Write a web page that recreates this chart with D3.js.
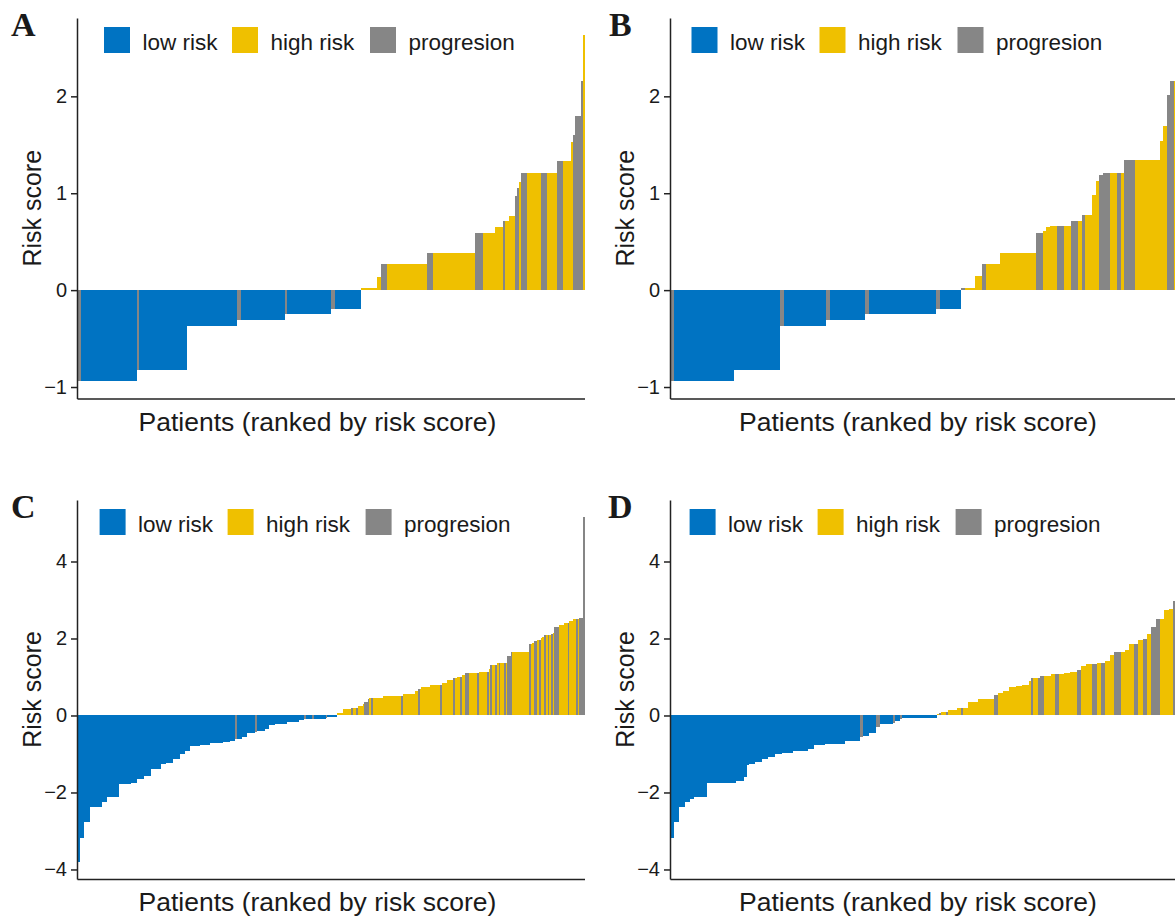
<!DOCTYPE html>
<html>
<head>
<meta charset="utf-8">
<script src="https://cdn.jsdelivr.net/npm/d3@7"></script>
<style>
  body { margin: 0; background: #fff; }
  svg { display: block; }
  text { font-family: "Liberation Sans", Arial, Helvetica, sans-serif; fill: #1a1a1a; }
</style>
</head>
<body>
<svg id="fig" width="1175" height="919"></svg>
<script>
// colours (jco palette)
const colLow = "#0073C2";
const colHigh = "#EFC000";
const colProg = "#868686";

const legendLabels = ["low risk", "high risk", "progresion"];
const ticksTop = [-1, 0, 1, 2];
const ticksBottom = [-4, -2, 0, 2, 4];

// Panel A : runs of patients with the same score (score, how many, progression 1/0)
const scoresA = [-0.94,-0.94,-0.82,-0.82,-0.37,-0.31,-0.31,-0.25,-0.25,-0.19,-0.19,
  0.025,0.14,0.265,0.265,0.385,0.385,0.59,0.59,0.65,0.71,0.71,0.77,0.97,1.05,1.12,
  1.21,1.21,1.21,1.21,1.33,1.33,1.53,1.6,1.8,2.16,2.63];
const countsA = [2,28,1,24,25,2,22,1,22,2,13,
  8,2,3,20,3,21,4,6,4,1,2,3,1,1,1,
  3,7,3,5,3,4,1,1,3,1,1];
const progA = [1,0,1,0,0,1,0,1,0,1,0,
  0,0,1,0,1,0,1,0,0,1,0,0,1,1,0,
  1,0,1,0,1,0,0,1,1,1,0];

// Panel B
const scoresB = [-0.94,-0.94,-0.82,-0.37,-0.37,-0.31,-0.31,-0.25,-0.25,-0.19,-0.19,
  0.025,0.025,0.147,0.267,0.267,0.386,0.59,0.615,0.65,0.66,0.66,0.66,0.71,0.71,
  0.78,0.78,0.98,1.13,1.19,1.21,1.21,1.21,1.21,1.34,1.34,1.54,1.69,2.01,2.16,2.16];
const countsB = [1,17,13,1,12,1,10,1,19,1,6,
  1,3,2,1,4,10,2,1,1,2,2,2,2,1,
  1,2,1,1,1,2,2,1,1,3,7,1,1,1,1,1];
const progB = [1,0,0,1,0,1,0,1,0,1,0,
  1,0,0,1,0,0,1,0,0,0,1,0,1,0,
  1,0,0,0,1,1,0,1,0,1,0,0,0,1,1,0];

// Panel C
const scoresC = [-3.8,-3.18,-2.77,-2.39,-2.26,-2.13,-1.79,-1.76,-1.66,-1.57,-1.38,-1.27,-1.23,
  -1.12,-1.01,-0.93,-0.8,-0.76,-0.71,-0.69,-0.65,-0.62,-0.62,-0.56,-0.45,-0.42,-0.41,-0.35,
  -0.24,-0.22,-0.18,-0.16,-0.13,-0.1,-0.1,-0.08,-0.08,-0.06,-0.04,
  0.07,0.17,0.2,0.2,0.2,0.24,0.3,0.34,0.43,0.45,0.45,0.46,0.5,0.51,0.51,0.55,0.64,0.69,0.69,
  0.74,0.79,0.79,0.84,0.91,0.98,0.98,1.0,1.0,1.05,1.11,1.11,1.11,1.13,1.13,1.2,1.3,1.3,1.3,
  1.36,1.36,1.36,1.36,1.36,1.55,1.65,1.65,1.85,1.85,1.89,1.94,1.97,1.97,2.0,2.05,2.1,2.1,
  2.1,2.1,2.12,2.15,2.3,2.36,2.4,2.4,2.45,2.5,2.5,2.5,2.52,5.15];
const countsC = [2,2,4,7,3,7,7,4,4,4,6,3,4,
  4,3,3,6,6,8,4,3,1,3,3,5,1,5,2,
  4,7,4,3,3,1,4,1,7,1,6,
  3,5,1,2,1,3,1,2,1,1,1,6,4,7,1,7,2,1,1,
  5,6,1,3,4,1,1,2,1,2,2,5,1,5,1,1,1,2,1,
  1,1,2,1,1,2,1,10,1,1,1,2,1,1,1,1,1,1,
  1,1,1,1,3,3,2,1,2,2,1,1,2,1];
const progC = [0,0,0,0,0,0,0,0,0,0,0,0,0,
  0,0,0,0,0,0,0,0,1,0,0,0,1,0,0,
  0,0,0,0,0,1,0,1,0,1,0,
  0,0,1,0,1,0,0,1,1,0,1,0,0,0,1,0,0,1,0,
  0,0,1,0,0,1,0,0,1,0,1,0,1,0,1,0,1,0,1,
  0,1,0,1,0,1,1,0,1,0,0,1,0,1,0,0,1,0,
  1,0,1,0,1,0,0,1,0,0,1,0,1,1];

// Panel D
const scoresD = [-3.18,-2.77,-2.39,-2.24,-2.17,-2.11,-1.76,-1.7,-1.61,-1.29,-1.25,-1.22,-1.14,
  -1.07,-1.01,-0.97,-0.93,-0.88,-0.77,-0.73,-0.65,-0.55,-0.52,-0.45,-0.3,-0.22,-0.2,-0.15,
  -0.1,-0.07,
  0.03,0.06,0.08,0.08,0.13,0.19,0.19,0.19,0.36,0.43,0.53,0.58,0.64,0.73,0.76,0.79,0.9,
  0.97,0.97,0.97,1.02,1.02,1.07,1.09,1.09,1.11,1.14,1.18,1.28,1.35,1.35,1.36,1.36,1.42,
  1.56,1.65,1.65,1.71,1.86,1.86,1.97,1.99,2.12,2.29,2.51,2.51,2.74,2.76,2.98];
const countsD = [2,2,3,2,2,6,13,4,1,1,3,3,3,
  3,3,5,7,3,5,9,7,1,3,3,2,6,1,2,
  1,16,
  1,1,2,1,4,2,1,2,5,7,2,2,3,3,3,3,1,
  1,2,1,2,3,2,2,2,3,3,2,2,3,2,2,2,2,
  2,3,2,2,2,2,2,2,2,2,2,2,2,2,2];
const progD = [0,0,0,0,0,0,0,0,0,0,0,0,0,
  0,0,0,0,0,0,0,0,1,0,0,1,0,1,0,
  1,0,
  0,1,0,1,0,0,1,0,0,0,1,0,0,0,0,0,0,
  1,0,1,1,0,0,1,0,0,0,1,0,0,1,0,1,0,
  0,1,0,0,0,1,0,1,0,1,1,0,0,0,1];

//one entry per patient, in the order of the runs
function expand(scores, counts, prog){
  const out = [];
  scores.forEach((s, i) => {
    for(let k = 0; k < counts[i]; k++){
      out.push({score: s, prog: prog[i]});
    }
  });
  out.forEach((d, i) => d.i = i);
  return out;
}

// ggplot style 5% expansion of the row's data range
function rowDomain(a, b){
  const ext = d3.extent(a.concat(b));
  const pad = (ext[1] - ext[0]) * 0.05;
  return [ext[0] - pad, ext[1] + pad];
}
const domTop = rowDomain(scoresA, scoresB);
const domBottom = rowDomain(scoresC, scoresD);

const panels = [
  {letter: "A", data: expand(scoresA, countsA, progA), x0: 77, x1: 584.5, top: 18, bottom: 398.5,
   dom: domTop, ticks: ticksTop, letterX: 11, legendX: 104, xlabX: 317.5},
  {letter: "B", data: expand(scoresB, countsB, progB), x0: 670, x1: 1177.5, top: 18, bottom: 398.5,
   dom: domTop, ticks: ticksTop, letterX: 609, legendX: 691.5, xlabX: 918},
  {letter: "C", data: expand(scoresC, countsC, progC), x0: 77, x1: 584.5, top: 500, bottom: 879,
   dom: domBottom, ticks: ticksBottom, letterX: 11, legendX: 99.6, xlabX: 317.5},
  {letter: "D", data: expand(scoresD, countsD, progD), x0: 670, x1: 1177.5, top: 500, bottom: 879,
   dom: domBottom, ticks: ticksBottom, letterX: 608, legendX: 689.6, xlabX: 918}
];

const svg = d3.select("#fig");

function barColor(d){
  if(d.prog) return colProg;
  return d.score < 0 ? colLow : colHigh;
}

function drawPanel(p){
  const g = svg.append("g").attr("class", "panel");
  const x = d3.scaleBand().domain(p.data.map(d => d.i)).range([p.x0, p.x1]).padding(0);
  const y = d3.scaleLinear().domain(p.dom).range([p.bottom, p.top]);

  // crispEdges : sinon des joints blancs entre les barres voisines
  g.append("g").attr("shape-rendering", "crispEdges").selectAll("rect")
    .data(p.data)
    .join("rect")
    .attr("x", d => x(d.i))
    .attr("width", x.bandwidth())
    .attr("y", d => y(Math.max(0, d.score)))
    .attr("height", d => Math.abs(y(d.score) - y(0)))
    .attr("fill", barColor);

  // axes
  const yAxis = d3.axisLeft(y).tickValues(p.ticks).tickFormat(d3.format("d"))
    .tickSize(6).tickSizeOuter(0).tickPadding(4);
  const ya = g.append("g").attr("transform", `translate(${p.x0},0)`).call(yAxis);
  ya.selectAll("text").style("font-size", "20px").attr("fill", "#1a1a1a");
  ya.selectAll("line, path").attr("stroke", "#222").attr("stroke-width", 1.5);

  const xAxis = d3.axisBottom(x).tickValues([]).tickSizeOuter(0);
  const xa = g.append("g").attr("transform", `translate(0,${p.bottom})`).call(xAxis);
  xa.select("path").attr("stroke", "#222").attr("stroke-width", 1.5);

  // titres
  g.append("text")
    .attr("transform", `translate(${p.x0 - 36},${(p.top + p.bottom) / 2}) rotate(-90)`)
    .attr("text-anchor", "middle")
    .style("font-size", "25px")
    .text("Risk score");

  g.append("text")
    .attr("x", p.xlabX)
    .attr("y", p.bottom + 32)
    .attr("text-anchor", "middle")
    .style("font-size", "26.5px")
    .text("Patients (ranked by risk score)");

  g.append("text")
    .attr("x", p.letterX)
    .attr("y", p.top + 18)
    .style("font-family", "'Liberation Serif', 'Times New Roman', serif")
    .style("font-weight", "bold")
    .style("font-size", "34px")
    .text(p.letter);

  // legende
  const cols = [colLow, colHigh, colProg];
  const offs = [0, 128, 266];
  const leg = g.append("g").attr("transform", `translate(${p.legendX},${p.top + 22})`);
  legendLabels.forEach((lab, i) => {
    leg.append("rect")
      .attr("x", offs[i]).attr("y", -13)
      .attr("width", 26).attr("height", 26)
      .attr("fill", cols[i]);
    leg.append("text")
      .attr("x", offs[i] + 38.5).attr("y", 10)
      .style("font-size", "22.5px")
      .text(lab);
  });
}

panels.forEach(drawPanel);
</script>
</body>
</html>
